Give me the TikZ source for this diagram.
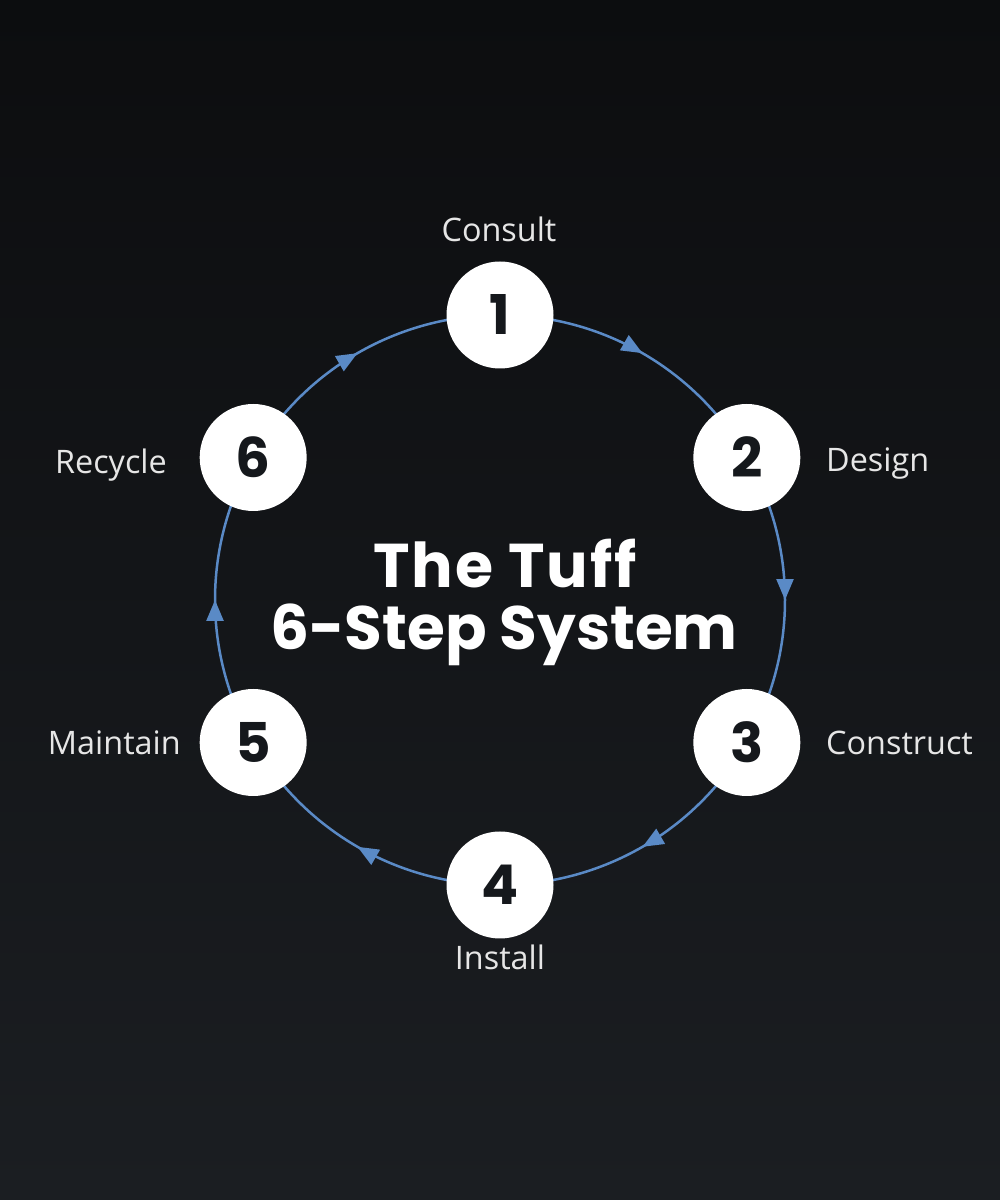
\documentclass[tikz,border=0pt]{standalone}
\usepackage{fontspec}
\setmainfont{Open Sans}
\newfontfamily\pop{Poppins}
\newfontfamily\popwide{Poppins}[LetterSpace=3]
\usetikzlibrary{arrows.meta,decorations.markings}
\definecolor{bgtop}{HTML}{0C0D0F}
\definecolor{bgbot}{HTML}{1B1E22}
\definecolor{ring}{HTML}{5A8AC6}
\definecolor{labelc}{HTML}{E6E6E6}
\definecolor{numc}{HTML}{15181C}
\pgfdeclarelayer{bg}
\pgfdeclarelayer{back}
\pgfsetlayers{bg,back,main}
\tikzset{
  stepnode/.style={circle, fill=white, minimum size=107bp, inner sep=0pt,
    font=\pop\bfseries\fontsize{55}{55}\selectfont, text=numc},
  lbl/.style={font=\fontsize{32.5}{33}\selectfont, text=labelc, inner sep=0pt},
  conn/.style={draw=ring, line width=2.5bp,
    postaction={decorate},
    decoration={markings, mark=at position 0.5 with {\arrow[ring]{Triangle[length=21bp,width=17bp]}}}},
  titletxt/.style={text=white, anchor=base, inner sep=0pt},
}
\begin{document}
\begin{tikzpicture}[x=1bp,y=1bp]
\begin{pgfonlayer}{bg}
\shade[top color=bgtop, bottom color=bgbot] (0,0) rectangle (1000,1200);
\end{pgfonlayer}
\useasboundingbox (0,0) rectangle (1000,1200);
\coordinate (c) at (500,600);
\node[stepnode] (n1) at ([shift={(90:285)}]c) {1};
\node[stepnode] (n2) at ([shift={(30:285)}]c) {2};
\node[stepnode] (n3) at ([shift={(-30:285)}]c) {3};
\node[stepnode] (n4) at ([shift={(-90:285)}]c) {4};
\node[stepnode] (n5) at ([shift={(-150:285)}]c) {5};
\node[stepnode] (n6) at ([shift={(150:285)}]c) {6};
\begin{pgfonlayer}{back}
\draw[conn] (n1.center) arc[start angle=90, end angle=30, radius=285bp];
\draw[conn] (n2.center) arc[start angle=30, end angle=-30, radius=285bp];
\draw[conn] (n3.center) arc[start angle=-30, end angle=-90, radius=285bp];
\draw[conn] (n4.center) arc[start angle=-90, end angle=-150, radius=285bp];
\draw[conn] (n5.center) arc[start angle=-150, end angle=-210, radius=285bp];
\draw[conn] (n6.center) arc[start angle=150, end angle=90, radius=285bp];
\end{pgfonlayer}
\node[lbl, anchor=base] (l1) at (499,958) {Consult};
\node[lbl, anchor=base west] (l2) at (826,728) {Design};
\node[lbl, anchor=base west] (l3) at (826,445) {Construct};
\node[lbl, anchor=base] (l4) at (500,230) {Install};
\node[lbl, anchor=base east] (l5) at (181,445) {Maintain};
\node[lbl, anchor=base east] (l6) at (167,726) {Recycle};
\node[titletxt, font=\popwide\bfseries\fontsize{62}{62}\selectfont] (t1) at (505,612) {The Tuff};
\node[titletxt, font=\pop\bfseries\fontsize{61.5}{62}\selectfont] (t2) at (504,550) {6-Step System};
\end{tikzpicture}
\end{document}
